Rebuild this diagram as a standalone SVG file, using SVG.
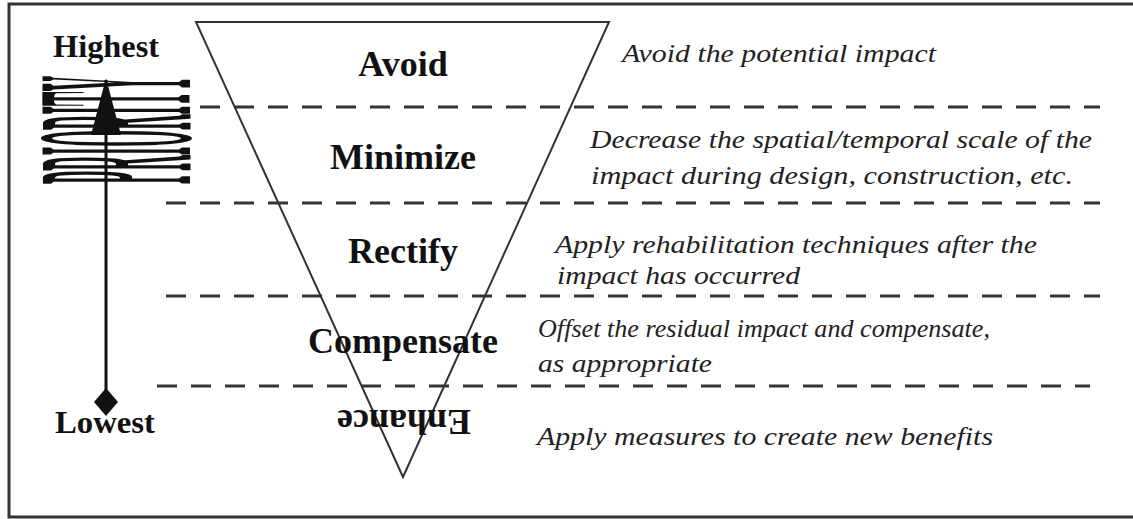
<svg xmlns="http://www.w3.org/2000/svg" width="1133" height="519" viewBox="0 0 1133 519">
<style>
.lvl{font-family:"Liberation Serif","Times New Roman",serif;font-weight:bold;font-size:36px;fill:#111;text-anchor:middle}
.end{font-family:"Liberation Serif","Times New Roman",serif;font-weight:bold;font-size:31px;fill:#111}
.desc{font-family:"Liberation Serif","Times New Roman",serif;font-style:italic;font-size:26px;fill:#222}
.dash{stroke:#333;stroke-width:3;stroke-dasharray:20 14;fill:none}
</style>
<rect x="0" y="0" width="1133" height="519" fill="#fff"/>
<path d="M1140 4 H9 V517 H1140" fill="none" stroke="#333" stroke-width="3"/>
<g id="connectors">
<line class="dash" x1="200" y1="107" x2="1100" y2="107"/>
<line class="dash" x1="166" y1="203" x2="1100" y2="203"/>
<line class="dash" x1="166" y1="296" x2="1100" y2="296"/>
<line class="dash" x1="157" y1="386" x2="1090" y2="386"/>
</g>
<g id="pyramid">
<polygon points="196,22 609,22 403,477" fill="none" stroke="#333" stroke-width="2"/>
</g>
<g id="scale">
<text transform="translate(190,184) rotate(-90) scale(1.08,11.2)" x="0" y="0" font-family="Liberation Serif, serif" font-weight="bold" font-size="20" fill="#111">PRIORITY</text>
<line x1="106" y1="80" x2="106" y2="395" stroke="#111" stroke-width="3"/>
<polygon points="106,78 91,135 121,135" fill="#111"/>
<polygon points="106,388 118,402 106,416 94,402" fill="#111"/>
<text class="end" x="53" y="57" textLength="106" lengthAdjust="spacingAndGlyphs">Highest</text>
<text class="end" x="55" y="433" textLength="100" lengthAdjust="spacingAndGlyphs">Lowest</text>
</g>
<g id="avoid">
<text class="lvl" x="403" y="76">Avoid</text>
<text class="desc" x="622" y="62" textLength="314" lengthAdjust="spacingAndGlyphs">Avoid the potential impact</text>
</g>
<g id="minimize">
<text class="lvl" x="403" y="169">Minimize</text>
<text class="desc" x="590" y="148" textLength="502" lengthAdjust="spacingAndGlyphs">Decrease the spatial/temporal scale of the</text>
<text class="desc" x="591" y="184" textLength="482" lengthAdjust="spacingAndGlyphs">impact during design, construction, etc.</text>
</g>
<g id="rectify">
<text class="lvl" x="403" y="263">Rectify</text>
<text class="desc" x="555" y="253" textLength="482" lengthAdjust="spacingAndGlyphs">Apply rehabilitation techniques after the</text>
<text class="desc" x="557" y="284" textLength="243" lengthAdjust="spacingAndGlyphs">impact has occurred</text>
</g>
<g id="compensate">
<text class="lvl" x="403" y="353">Compensate</text>
<text class="desc" x="538" y="337" textLength="452" lengthAdjust="spacingAndGlyphs">Offset the residual impact and compensate,</text>
<text class="desc" x="538" y="372" textLength="174" lengthAdjust="spacingAndGlyphs">as appropriate</text>
</g>
<g id="enhance">
<text class="lvl" x="404" y="433" transform="rotate(180 404 421.5)">Enhance</text>
<text class="desc" x="537" y="445" textLength="456" lengthAdjust="spacingAndGlyphs">Apply measures to create new benefits</text>
</g>
</svg>
